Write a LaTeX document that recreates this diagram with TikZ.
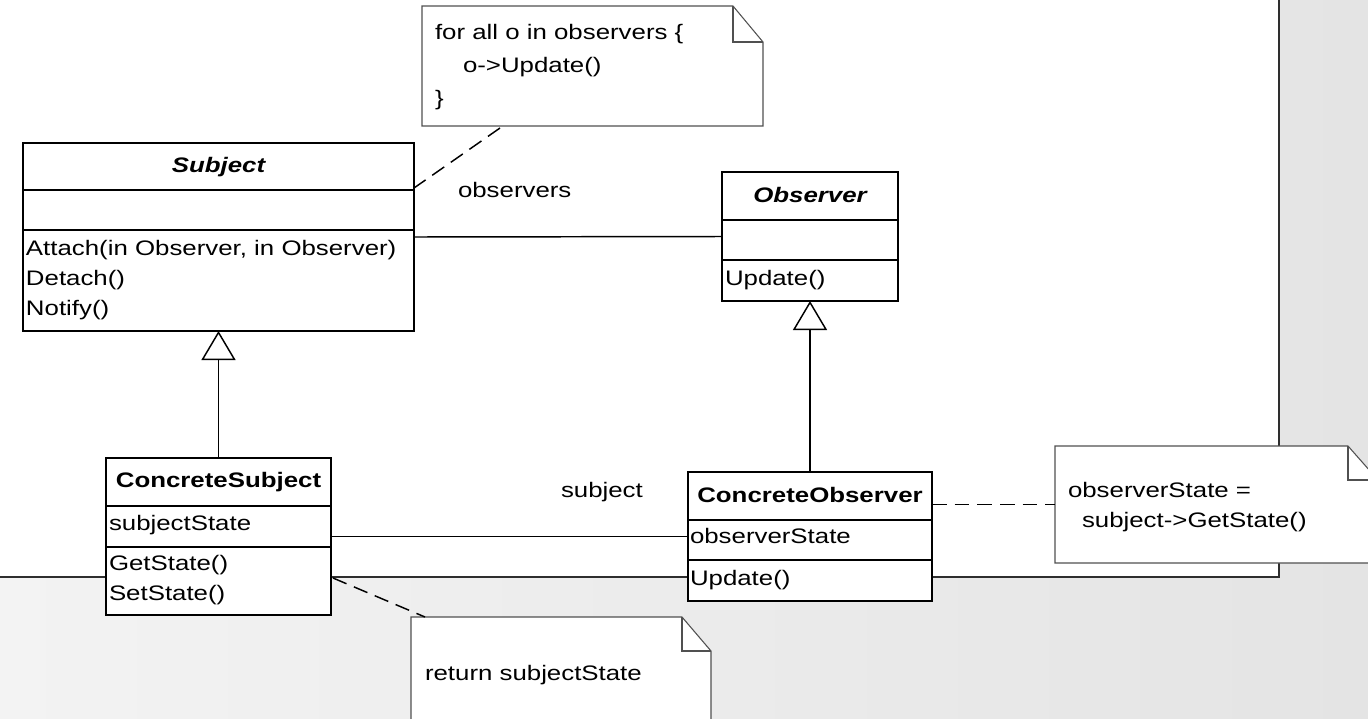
\documentclass[tikz,border=0pt]{standalone}
\usepackage{fontspec}
\setmainfont{Liberation Sans}[FakeStretch=1.23]
\usetikzlibrary{arrows.meta,calc}
\definecolor{bgL}{HTML}{F3F3F3}
\definecolor{bgR}{HTML}{E4E4E4}
\definecolor{frameC}{HTML}{2E2E2E}
\definecolor{noteC}{HTML}{505050}
\tikzset{
  txt/.style={inner sep=0pt, outer sep=0pt, anchor=base west, font=\fontsize{15.75pt}{19pt}\selectfont},
  ctitle/.style={inner sep=0pt, outer sep=0pt, anchor=base, font=\fontsize{15.75pt}{19pt}\selectfont\bfseries},
  cls/.style={draw, line width=1.3pt, fill=white, inner sep=0pt, outer sep=0pt, anchor=north west},
  sepline/.style={line width=1.3pt},
  notebox/.style={inner sep=0pt, outer sep=0pt, anchor=north west},
  noteline/.style={draw=noteC, line width=0.8pt, fill=white},
  conn/.style={line width=1.1pt},
  gen/.style={line width=1.1pt, -{Triangle[open, fill=white, length=21.75pt, width=25.5pt]}},
  dsh/.style={line width=1.1pt, dash pattern=on 11pt off 6pt},
}
\begin{document}
\begin{tikzpicture}[x=0.75pt, y=-0.75pt]
\useasboundingbox (0,0) rectangle (1368,718);
\clip (0,0) rectangle (1368,718);
% background
\shade[left color=bgL, right color=bgR] (0,0) rectangle (1368,718);
\fill[white] (0,0) rectangle (1279,577);
\draw[frameC, line width=1.6pt] (0,577) -- (1279,577) -- (1279,-5);

% ---------- Notes ----------
\node[notebox, minimum width={341*0.75pt}, minimum height={120*0.75pt}] (n1) at (422,6) {};
\path[noteline] (n1.north west) -- ($(n1.north east)+(-30,0)$) -- ($(n1.north east)+(0,36)$) -- (n1.south east) -- (n1.south west) -- cycle;
\draw[noteC, line width=0.8pt] ($(n1.north east)+(-30,0)$) -- ($(n1.north east)+(-30,36)$) -- ($(n1.north east)+(0,36)$);
\node[txt] (n1a) at (435,39) {for all o in observers \{};
\node[txt] (n1b) at (463,72) {o->Update()};
\node[txt] (n1c) at (435,105) {\}};

\node[notebox, minimum width={323*0.75pt}, minimum height={117*0.75pt}] (n2) at (1055,446) {};
\path[noteline] (n2.north west) -- ($(n2.north east)+(-30,0)$) -- ($(n2.north east)+(0,34)$) -- (n2.south east) -- (n2.south west) -- cycle;
\draw[noteC, line width=0.8pt] ($(n2.north east)+(-30,0)$) -- ($(n2.north east)+(-30,34)$) -- ($(n2.north east)+(0,34)$);
\node[txt] (n2a) at (1068,497) {observerState =};
\node[txt] (n2b) at (1082,527) {subject->GetState()};

\node[notebox, minimum width={300*0.75pt}, minimum height={130*0.75pt}] (n3) at (411,617) {};
\path[noteline] (n3.north west) -- ($(n3.north east)+(-29,0)$) -- ($(n3.north east)+(0,34)$) -- (n3.south east) -- (n3.south west) -- cycle;
\draw[noteC, line width=0.8pt] ($(n3.north east)+(-29,0)$) -- ($(n3.north east)+(-29,34)$) -- ($(n3.north east)+(0,34)$);
\node[txt] (n3a) at (425,680) {return subjectState};

% ---------- Classes ----------
% Subject
\node[cls, minimum width={391*0.75pt}, minimum height={188*0.75pt}] (subj) at (23,143) {};
\draw[sepline] ($(subj.north west)+(0,47)$) -- ($(subj.north east)+(0,47)$);
\draw[sepline] ($(subj.north west)+(0,87)$) -- ($(subj.north east)+(0,87)$);
\node[ctitle, font=\fontsize{15.75pt}{19pt}\selectfont\bfseries\itshape] (subjT) at (218.5,172) {Subject};
\node[txt] (subjM1) at (26,255) {Attach(in Observer, in Observer)};
\node[txt] (subjM2) at (26,285) {Detach()};
\node[txt] (subjM3) at (26,315) {Notify()};

% Observer
\node[cls, minimum width={176*0.75pt}, minimum height={129*0.75pt}] (obs) at (722,172) {};
\draw[sepline] ($(obs.north west)+(0,48)$) -- ($(obs.north east)+(0,48)$);
\draw[sepline] ($(obs.north west)+(0,88)$) -- ($(obs.north east)+(0,88)$);
\node[ctitle, font=\fontsize{15.75pt}{19pt}\selectfont\bfseries\itshape] (obsT) at (810,202) {Observer};
\node[txt] (obsM1) at (725,285) {Update()};

% ConcreteSubject
\node[cls, minimum width={225*0.75pt}, minimum height={157*0.75pt}] (cs) at (106,458) {};
\draw[sepline] ($(cs.north west)+(0,48)$) -- ($(cs.north east)+(0,48)$);
\draw[sepline] ($(cs.north west)+(0,89)$) -- ($(cs.north east)+(0,89)$);
\node[ctitle] (csT) at (218.5,487) {ConcreteSubject};
\node[txt] (csA1) at (109,530) {subjectState};
\node[txt] (csM1) at (109,570) {GetState()};
\node[txt] (csM2) at (109,600) {SetState()};

% ConcreteObserver
\node[cls, minimum width={244*0.75pt}, minimum height={129*0.75pt}] (co) at (688,472) {};
\draw[sepline] ($(co.north west)+(0,48)$) -- ($(co.north east)+(0,48)$);
\draw[sepline] ($(co.north west)+(0,88)$) -- ($(co.north east)+(0,88)$);
\node[ctitle] (coT) at (810,502) {ConcreteObserver};
\node[txt] (coA1) at (690,543) {observerState};
\node[txt] (coM1) at (690,585) {Update()};

% ---------- Connectors ----------
\draw[conn] (subj.east) -- (obs.west);
\node[txt] (lblObs) at (458,197) {observers};
\draw[conn] (cs.east) -- (co.west);
\node[txt] (lblSub) at (561,497) {subject};

\draw[gen] (cs.north) -- (subj.south);
\draw[gen] (co.north) -- (obs.south);

\draw[dsh] ($(n1.south west)+(78,2)$) -- ($(subj.north east)+(0,45)$);
\draw[dsh] (co.east |- n2.west) -- (n2.west);
\draw[dsh] ($(cs.north east)+(2,120)$) -- ($(n3.north west)+(14,0)$);
\end{tikzpicture}
\end{document}
